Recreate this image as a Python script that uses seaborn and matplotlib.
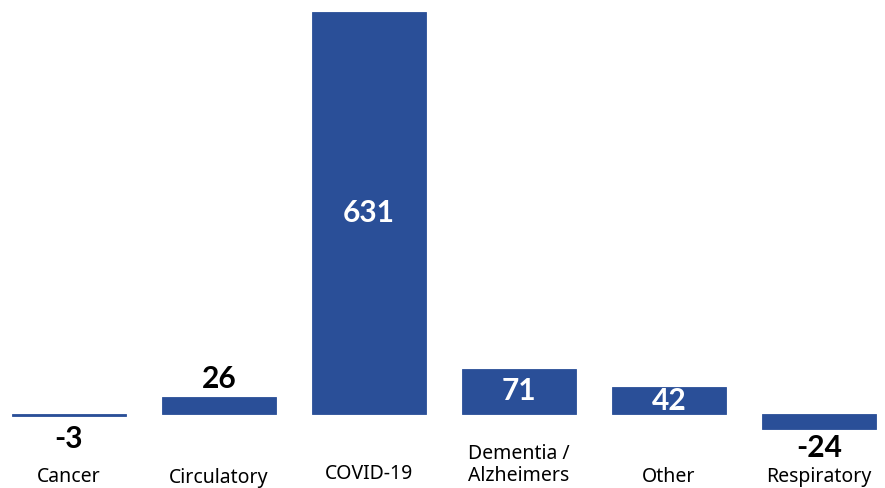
import matplotlib
matplotlib.use("Agg")
import matplotlib.pyplot as plt
import matplotlib.transforms as mtransforms
import seaborn as sns
import pandas as pd

categories = ["Cancer", "Circulatory", "COVID-19", "Dementia /\nAlzheimers", "Other", "Respiratory"]
values = [-3, 26, 631, 71, 42, -24]
value_labels = ["-3", "26", "631", "71", "42", "-24"]

sns.set_style("white")
plt.rcParams['font.family'] = ['Noto Sans', 'DejaVu Sans']

BAR = "#2a4f98"
VFONT = ['Lato', 'DejaVu Sans']
df = pd.DataFrame({"cat": categories, "val": values})

fig = plt.figure(figsize=(8.85, 4.88), dpi=100)
ax = fig.add_axes([0, 0, 1, 1])
sns.barplot(data=df, x="cat", y="val", color=BAR, saturation=1, width=0.76,
            edgecolor=BAR, linewidth=0.6, ax=ax)
ax.set_xlim(-0.46, 5.44)
ax.set_ylim(-116.2, 649.9)
ax.axis("off")

px = 766.1 / 488.0  # data units per pixel
VFS = 21.5
for i, (v, lab) in enumerate(zip(values, value_labels)):
    if v >= 40:
        ax.text(i, v / 2, lab, ha="center", va="center", color="white",
                fontsize=VFS, fontweight="bold", family=VFONT)
    elif v >= 0:
        ax.text(i, v + 18 * px, lab, ha="center", va="center", color="black",
                fontsize=VFS, fontweight="bold", family=VFONT)
    else:
        off = 23 if v > -10 else 19
        ax.text(i, v - off * px, lab, ha="center", va="center", color="black",
                fontsize=VFS, fontweight="bold", family=VFONT)

trans = mtransforms.blended_transform_factory(ax.transData, ax.transAxes)
label_y = [477, 478, 474, 465, 477, 477]
for i, (c, yy) in enumerate(zip(categories, label_y)):
    ax.text(i, (488 - yy) / 488, c, ha="center", va="center", color="black",
            fontsize=14, transform=trans, linespacing=1.12)

fig.savefig("out.png", dpi=100)
